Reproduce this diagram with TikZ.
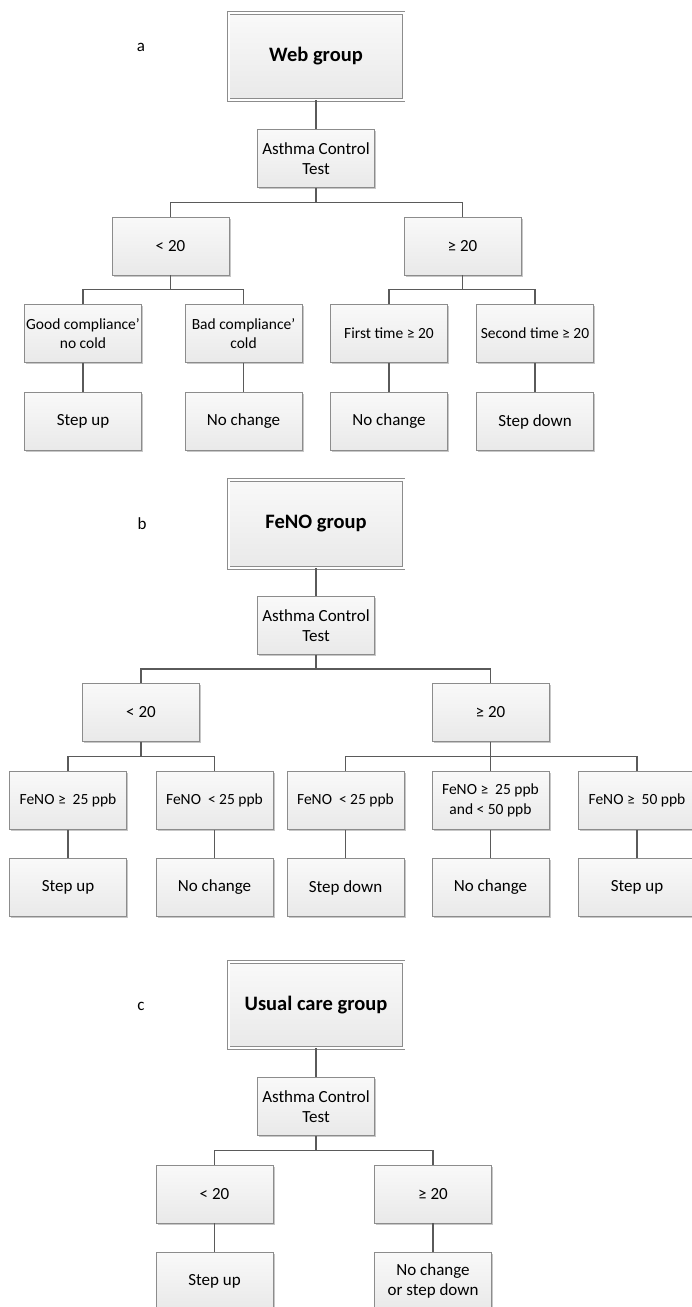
\documentclass[tikz,border=0pt]{standalone}
\usepackage{fontspec}
\setmainfont{Carlito}
\usetikzlibrary{calc,shadows}
\definecolor{boxline}{HTML}{8C8C8C}
\definecolor{connline}{HTML}{5A5A5A}
\definecolor{fillTop}{HTML}{F9F9F9}
\definecolor{fillBot}{HTML}{E9E9E9}
\tikzset{
  box/.style={rectangle, draw=boxline, line width=0.9pt, top color=fillTop, bottom color=fillBot,
    minimum width=117pt, minimum height=58pt, inner sep=1pt, align=center,
    font=\fontsize{17}{20}\selectfont,
    drop shadow={shadow xshift=1.5pt, shadow yshift=-1.5pt, fill=black, opacity=0.22}},
  smallbox/.style={box, font=\fontsize{15.5}{18.5}\selectfont},
  titlebox/.style={box, minimum width=175pt, minimum height=87pt, double=white, double distance=2pt, line width=0.8pt,
    font=\bfseries\fontsize{20.5}{24}\selectfont},
  conn/.style={draw=connline, line width=1.2pt},
  lab/.style={font=\fontsize{17}{20}\selectfont, inner sep=0pt}
}
\newcommand\myelbow[2]{\draw[conn] (#1.south) |- ($(#1.south)!0.5!(#2.north)$) -| (#2.north);}
\newcommand\mystraight[2]{\draw[conn] (#1.south) -- (#2.north);}
\begin{document}
\begin{tikzpicture}[x=1pt,y=-1pt]
\useasboundingbox (0,0) rectangle (692,1307);
\clip (0,0) rectangle (692,1307);
\fill[white] (0,0) rectangle (692,1307);

% ---------- part a ----------
\node[lab] (la) at (141,47) {a};
\node[titlebox] (aT) at (316,56.5) {Web group};
\node[box] (aA) at (316,158.5) {Asthma Control\\Test};
\node[box] (aL) at (170.5,246) {< 20};
\node[box] (aG) at (462.5,246) {≥ 20};
\node[smallbox] (aL1) at (83,333.5) {Good compliance’\\no cold};
\node[smallbox] (aL2) at (243.5,333.5) {Bad compliance’\\cold};
\node[smallbox] (aG1) at (389,333.5) {First time ≥ 20};
\node[smallbox] (aG2) at (535,333.5) {Second time ≥ 20};
\node[box] (aL1r) at (83,421.5) {Step up};
\node[box] (aL2r) at (243.5,421.5) {No change};
\node[box] (aG1r) at (389,421.5) {No change};
\node[box] (aG2r) at (535,421.5) {Step down};

\mystraight{aT}{aA}
\myelbow{aA}{aL}
\myelbow{aA}{aG}
\myelbow{aL}{aL1}
\myelbow{aL}{aL2}
\myelbow{aG}{aG1}
\myelbow{aG}{aG2}
\mystraight{aL1}{aL1r}
\mystraight{aL2}{aL2r}
\mystraight{aG1}{aG1r}
\mystraight{aG2}{aG2r}

% ---------- part b ----------
\node[lab] (lb) at (142,524) {b};
\node[titlebox, minimum height=88pt] (bT) at (316,524) {FeNO group};
\node[box] (bA) at (316,625.5) {Asthma Control\\Test};
\node[box] (bL) at (141,712.5) {< 20};
\node[box] (bG) at (490.5,712.5) {≥ 20};
\node[smallbox] (bL1) at (68,800.5) {FeNO ≥\ \ 25 ppb};
\node[smallbox] (bL2) at (214.5,800.5) {FeNO\ \ < 25 ppb};
\node[smallbox] (bG1) at (345.5,800.5) {FeNO\ \ < 25 ppb};
\node[smallbox, font=\fontsize{15.5}{20}\selectfont] (bG2) at (490.5,800.5) {FeNO ≥\ \ 25 ppb\\and < 50 ppb};
\node[smallbox] (bG3) at (637,800.5) {FeNO ≥\ \ 50 ppb};
\node[box] (bL1r) at (68,887.5) {Step up};
\node[box] (bL2r) at (214.5,887.5) {No change};
\node[box] (bG1r) at (345.5,887.5) {Step down};
\node[box] (bG2r) at (490.5,887.5) {No change};
\node[box] (bG3r) at (637,887.5) {Step up};

\mystraight{bT}{bA}
\myelbow{bA}{bL}
\myelbow{bA}{bG}
\myelbow{bL}{bL1}
\myelbow{bL}{bL2}
\myelbow{bG}{bG1}
\mystraight{bG}{bG2}
\myelbow{bG}{bG3}
\mystraight{bL1}{bL1r}
\mystraight{bL2}{bL2r}
\mystraight{bG1}{bG1r}
\mystraight{bG2}{bG2r}
\mystraight{bG3}{bG3r}

% ---------- part c ----------
\node[lab] (lc) at (141,1006) {c};
\node[titlebox, minimum height=86pt] (cT) at (316,1005) {Usual care group};
\node[box] (cA) at (316,1106.5) {Asthma Control\\Test};
\node[box] (cL) at (214.5,1194) {< 20};
\node[box] (cG) at (433,1194) {≥ 20};
\node[box] (cLr) at (214.5,1281) {Step up};
\node[box] (cGr) at (433,1281) {No change\\or step down};

\mystraight{cT}{cA}
\myelbow{cA}{cL}
\myelbow{cA}{cG}
\mystraight{cL}{cLr}
\mystraight{cG}{cGr}
\end{tikzpicture}
\end{document}
